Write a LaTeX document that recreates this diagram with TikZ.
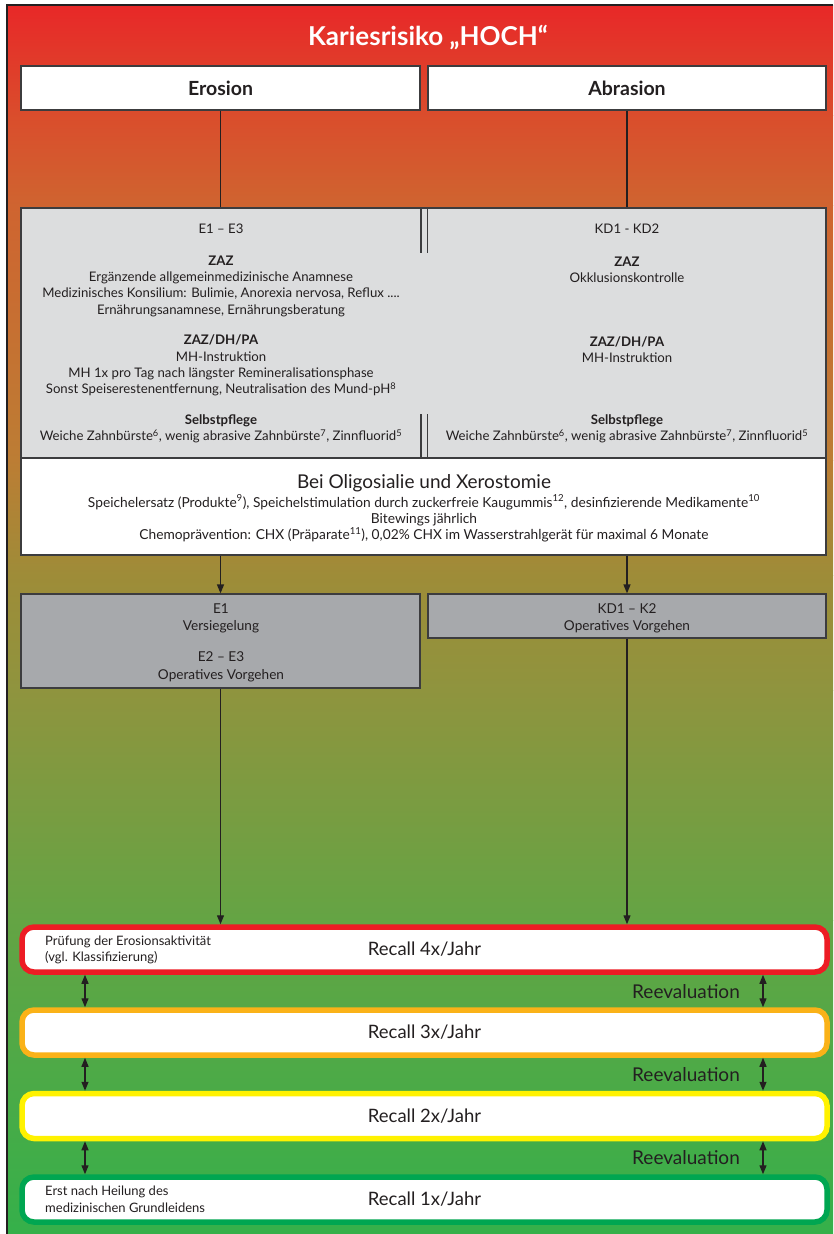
\documentclass[tikz,border=0pt]{standalone}
\usepackage{fontspec}
\setmainfont{Lato}
\usetikzlibrary{arrows.meta}

\definecolor{ink}{RGB}{35,31,32}
\definecolor{framegray}{RGB}{60,60,62}
\definecolor{panelgray}{RGB}{220,221,222}
\definecolor{boxgray}{RGB}{167,169,172}
\definecolor{rRed}{RGB}{237,28,36}
\definecolor{rOrange}{RGB}{250,178,24}
\definecolor{rYellow}{RGB}{255,242,0}
\definecolor{rGreen}{RGB}{0,166,81}
% background gradient stops
\definecolor{g0}{RGB}{232,40,40}
\definecolor{g1}{RGB}{218,77,44}
\definecolor{g2}{RGB}{207,100,48}
\definecolor{g3}{RGB}{188,125,52}
\definecolor{g4}{RGB}{158,140,56}
\definecolor{g5}{RGB}{143,148,62}
\definecolor{g6}{RGB}{100,164,68}
\definecolor{g7}{RGB}{53,176,74}

\newcommand{\bodysize}{\fontsize{13.2}{16.3}\selectfont}
\newcommand{\widesize}{\fontsize{13.75}{16.3}\selectfont}

\tikzset{
  conn/.style={draw=ink, line width=1.3pt},
  arr/.style={conn, -{Triangle[length=9pt,width=7pt]}},
  darr/.style={conn, {Triangle[length=9pt,width=7pt]}-{Triangle[length=9pt,width=7pt]}},
  headbox/.style={draw=framegray, line width=1.2pt, fill=white, minimum height=44pt,
    inner sep=0pt, font=\fontsize{19.5}{22}\selectfont\bfseries, text=ink},
  panelbox/.style={draw=framegray, line width=1.2pt, fill=panelgray, inner sep=0pt},
  whitebox/.style={draw=framegray, line width=1.2pt, fill=white, inner sep=0pt},
  opbox/.style={draw=framegray, line width=1.2pt, fill=boxgray, inner sep=0pt},
  optxt/.style={inner sep=0pt, align=center, font=\fontsize{13.6}{17.5}\selectfont, text=ink},
  txt/.style={inner sep=0pt, align=center, font=\bodysize, text=ink},
  recall/.style={draw=#1, line width=5.5pt, fill=white, rounded corners=12pt,
    minimum width=805pt, minimum height=45pt, inner sep=0pt,
    font=\fontsize{18.5}{22}\selectfont, text=ink},
  note/.style={inner sep=0pt, align=left, anchor=west,
    font=\fontsize{13}{16.5}\selectfont, text=ink},
  reeval/.style={inner sep=0pt, font=\fontsize{19}{22}\selectfont, text=ink},
}

\begin{document}
\begin{tikzpicture}[x=1pt,y=-1pt]
\useasboundingbox (0,0) rectangle (833,1234);

% background with vertical colour gradient
\fill[white] (0,0) rectangle (833,1234);
\shade[top color=g0, bottom color=g1] (7,5) rectangle (833,115.5);
\shade[top color=g1, bottom color=g2] (7,115) rectangle (833,205.5);
\shade[top color=g2, bottom color=g3] (7,205) rectangle (833,460.5);
\shade[top color=g3, bottom color=g4] (7,460) rectangle (833,575.5);
\shade[top color=g4, bottom color=g5] (7,575) rectangle (833,690.5);
\shade[top color=g5, bottom color=g6] (7,690) rectangle (833,920.5);
\shade[top color=g6, bottom color=g7] (7,920) rectangle (833,1234);
\draw[ink, line width=1.2pt] (7,1234) -- (7,5) -- (833,5);

% title
\node[inner sep=0pt, text=white, font=\fontsize{26}{30}\selectfont\bfseries] (title) at (428,37) {Kariesrisiko „HOCH“};

% headers
\node[headbox, minimum width=399pt] (erosion) at (220.5,88) {Erosion};
\node[headbox, minimum width=398pt] (abrasion) at (627,88) {Abrasion};

% measures panel
\node[panelbox, minimum width=805pt, minimum height=250pt] (panel) at (423.5,333) {};
\draw[framegray, line width=1.1pt] (421,209) -- (421,253) (427.5,209) -- (427.5,253)
  (421,414) -- (421,457.5) (427.5,414) -- (427.5,457.5);

\draw[conn] (erosion.south) -- (erosion.south |- panel.north);
\draw[conn] (abrasion.south) -- (abrasion.south |- panel.north);

% left column
\node[txt] (eA) at (221,229) {E1 – E3};
\node[txt] (eB) at (221,286) {\textbf{ZAZ}\\Ergänzende allgemeinmedizinische Anamnese\\Medizinisches Konsilium: Bulimie, Anorexia nervosa, Reflux ....\\Ernährungsanamnese, Ernährungsberatung};
\node[txt] (eC) at (221,365.5) {\textbf{ZAZ/DH/PA}\\MH-Instruktion\\MH 1x pro Tag nach längster Remineralisationsphase\\Sonst Speiserestenentfernung, Neutralisation des Mund-pH\textsuperscript{8}};
\node[txt] (eD) at (221,429) {\textbf{Selbstpflege}\\Weiche Zahnbürste\textsuperscript{6}, wenig abrasive Zahnbürste\textsuperscript{7}, Zinnfluorid\textsuperscript{5}};

% right column
\node[txt] (aA) at (627,229) {KD1 - KD2};
\node[txt] (aB) at (627,269.5) {\textbf{ZAZ}\\Okklusionskontrolle};
\node[txt] (aC) at (627,349.5) {\textbf{ZAZ/DH/PA}\\MH-Instruktion};
\node[txt] (aD) at (627,429) {\textbf{Selbstpflege}\\Weiche Zahnbürste\textsuperscript{6}, wenig abrasive Zahnbürste\textsuperscript{7}, Zinnfluorid\textsuperscript{5}};

% dry mouth box
\node[whitebox, minimum width=805pt, minimum height=97pt] (oligo) at (423.5,506.5) {};
\node[txt, font=\fontsize{19}{22}\selectfont] (oligoT) at (424,483) {Bei Oligosialie und Xerostomie};
\node[txt, font=\widesize] (oligoB) at (424,518.5) {Speichelersatz (Produkte\textsuperscript{9}), Speichelstimulation durch zuckerfreie Kaugummis\textsuperscript{12}, desinfizierende Medikamente\textsuperscript{10}\\Bitewings jährlich\\Chemoprävention: CHX (Präparate\textsuperscript{11}), 0,02\% CHX im Wasserstrahlgerät für maximal 6 Monate};

% treatment boxes
\node[opbox, minimum width=399pt, minimum height=94pt] (versieg) at (220.5,641) {};
\node[optxt] (versiegA) at (221,618.5) {E1\\Versiegelung};
\node[optxt] (versiegB) at (221,667) {E2 – E3\\Operatives Vorgehen};
\node[opbox, minimum width=398pt, minimum height=44pt] (operativ) at (627,616) {};
\node[optxt] (operativT) at (627,618.5) {KD1 – K2\\Operatives Vorgehen};

\draw[arr] (erosion.south |- oligo.south) -- (versieg.north);
\draw[arr] (abrasion.south |- oligo.south) -- (operativ.north);

% recall intervals
\node[recall=rRed] (r4) at (424.5,949.5) {Recall 4x/Jahr};
\node[recall=rOrange] (r3) at (424.5,1032.5) {Recall 3x/Jahr};
\node[recall=rYellow] (r2) at (424.5,1116) {Recall 2x/Jahr};
\node[recall=rGreen] (r1) at (424.5,1199.5) {Recall 1x/Jahr};

\draw[arr] (versieg.south) -- (versieg.south |- r4.north);
\draw[arr] (operativ.south) -- (operativ.south |- r4.north);

\node[note] (n4) at (45,950) {Prüfung der Erosionsaktivität\\(vgl. Klassifizierung)};
\node[note] (n1) at (45,1199) {Erst nach Heilung des\\medizinischen Grundleidens};

% reevaluation links
\coordinate (L) at (85,0);
\coordinate (R) at (763,0);
\draw[darr] (L |- r4.south) -- (L |- r3.north);
\draw[darr] (L |- r3.south) -- (L |- r2.north);
\draw[darr] (L |- r2.south) -- (L |- r1.north);
\draw[darr] (R |- r4.south) -- (R |- r3.north);
\draw[darr] (R |- r3.south) -- (R |- r2.north);
\draw[darr] (R |- r2.south) -- (R |- r1.north);

\node[reeval] (e43) at (686,992) {Reevaluation};
\node[reeval] (e32) at (686,1075) {Reevaluation};
\node[reeval] (e21) at (686,1158) {Reevaluation};
\end{tikzpicture}
\end{document}
